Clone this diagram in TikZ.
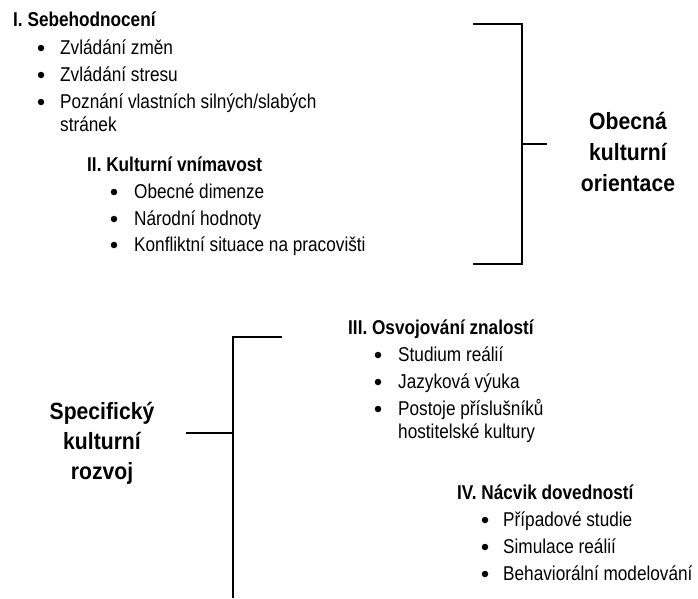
\documentclass[tikz,border=0pt]{standalone}
\usepackage{fontspec}
\setmainfont{Liberation Sans}[FakeStretch=0.86]
\newfontfamily\labelfont{Liberation Sans}[FakeStretch=0.9]
\begin{document}
\begin{tikzpicture}[x=1pt,y=-1pt,
  txt/.style={inner sep=0pt,anchor=base west,font=\fontsize{20}{24}\selectfont},
  head/.style={txt,font=\fontsize{20}{24}\selectfont\bfseries},
  big/.style={inner sep=0pt,anchor=base,font=\labelfont\fontsize{23.5}{28}\selectfont\bfseries},
  bul/.style={circle,fill=black,inner sep=0pt,minimum size=6.5pt},
  brk/.style={line width=1.4pt,line cap=butt}]
\useasboundingbox (0,0) rectangle (698,598);

% --- I. Sebehodnocení
\node[head] (h1) at (13,26) {I. Sebehodnocení};
\node[bul] (b11) at (41,48) {};
\node[txt] (t11) at (60,54) {Zvládání změn};
\node[bul] (b12) at (41,75) {};
\node[txt] (t12) at (60,81) {Zvládání stresu};
\node[bul] (b13) at (41,102) {};
\node[txt] (t13) at (60,108) {Poznání vlastních silných/slabých};
\node[txt] (t13b) at (60,131) {stránek};

% --- II. Kulturní vnímavost
\node[head] (h2) at (87,171) {II. Kulturní vnímavost};
\node[bul] (b21) at (114,192) {};
\node[txt] (t21) at (134,198) {Obecné dimenze};
\node[bul] (b22) at (114,219) {};
\node[txt] (t22) at (134,225) {Národní hodnoty};
\node[bul] (b23) at (114,245) {};
\node[txt] (t23) at (134,251) {Konfliktní situace na pracovišti};

% --- III. Osvojování znalostí
\node[head] (h3) at (348,334) {III. Osvojování znalostí};
\node[bul] (b31) at (378,355) {};
\node[txt] (t31) at (398,361) {Studium reálií};
\node[bul] (b32) at (378,382) {};
\node[txt] (t32) at (398,388) {Jazyková výuka};
\node[bul] (b33) at (378,409) {};
\node[txt] (t33) at (398,415) {Postoje příslušníků};
\node[txt] (t33b) at (398,438) {hostitelské kultury};

% --- IV. Nácvik dovedností
\node[head] (h4) at (457,499) {IV. Nácvik dovedností};
\node[bul] (b41) at (485,520) {};
\node[txt] (t41) at (503,526) {Případové studie};
\node[bul] (b42) at (485,547) {};
\node[txt] (t42) at (503,553) {Simulace reálií};
\node[bul] (b43) at (485,574) {};
\node[txt] (t43) at (503,580) {Behaviorální modelování};

% --- general orientation bracket
\coordinate (ua) at (473,24);
\coordinate (ub) at (522,24);
\coordinate (uc) at (522,264);
\coordinate (ud) at (473,264);
\coordinate (um) at (522,144);
\coordinate (ut) at (547,144);
\draw[brk] (ua) -- (ub) -- (uc) -- (ud);
\draw[brk] (um) -- (ut);
\node[big] (g1) at (628,129) {Obecná};
\node[big] (g2) at (628,160) {kulturní};
\node[big] (g3) at (628,191) {orientace};

% --- specific development bracket
\coordinate (la) at (282,337);
\coordinate (lb) at (233,337);
\coordinate (lc) at (233,598);
\coordinate (lm) at (233,433);
\coordinate (lt) at (186,433);
\draw[brk] (la) -- (lb) -- (lc);
\draw[brk] (lm) -- (lt);
\node[big] (s1) at (102,419) {Specifický};
\node[big] (s2) at (102,449) {kulturní};
\node[big] (s3) at (102,479) {rozvoj};
\end{tikzpicture}
\end{document}
